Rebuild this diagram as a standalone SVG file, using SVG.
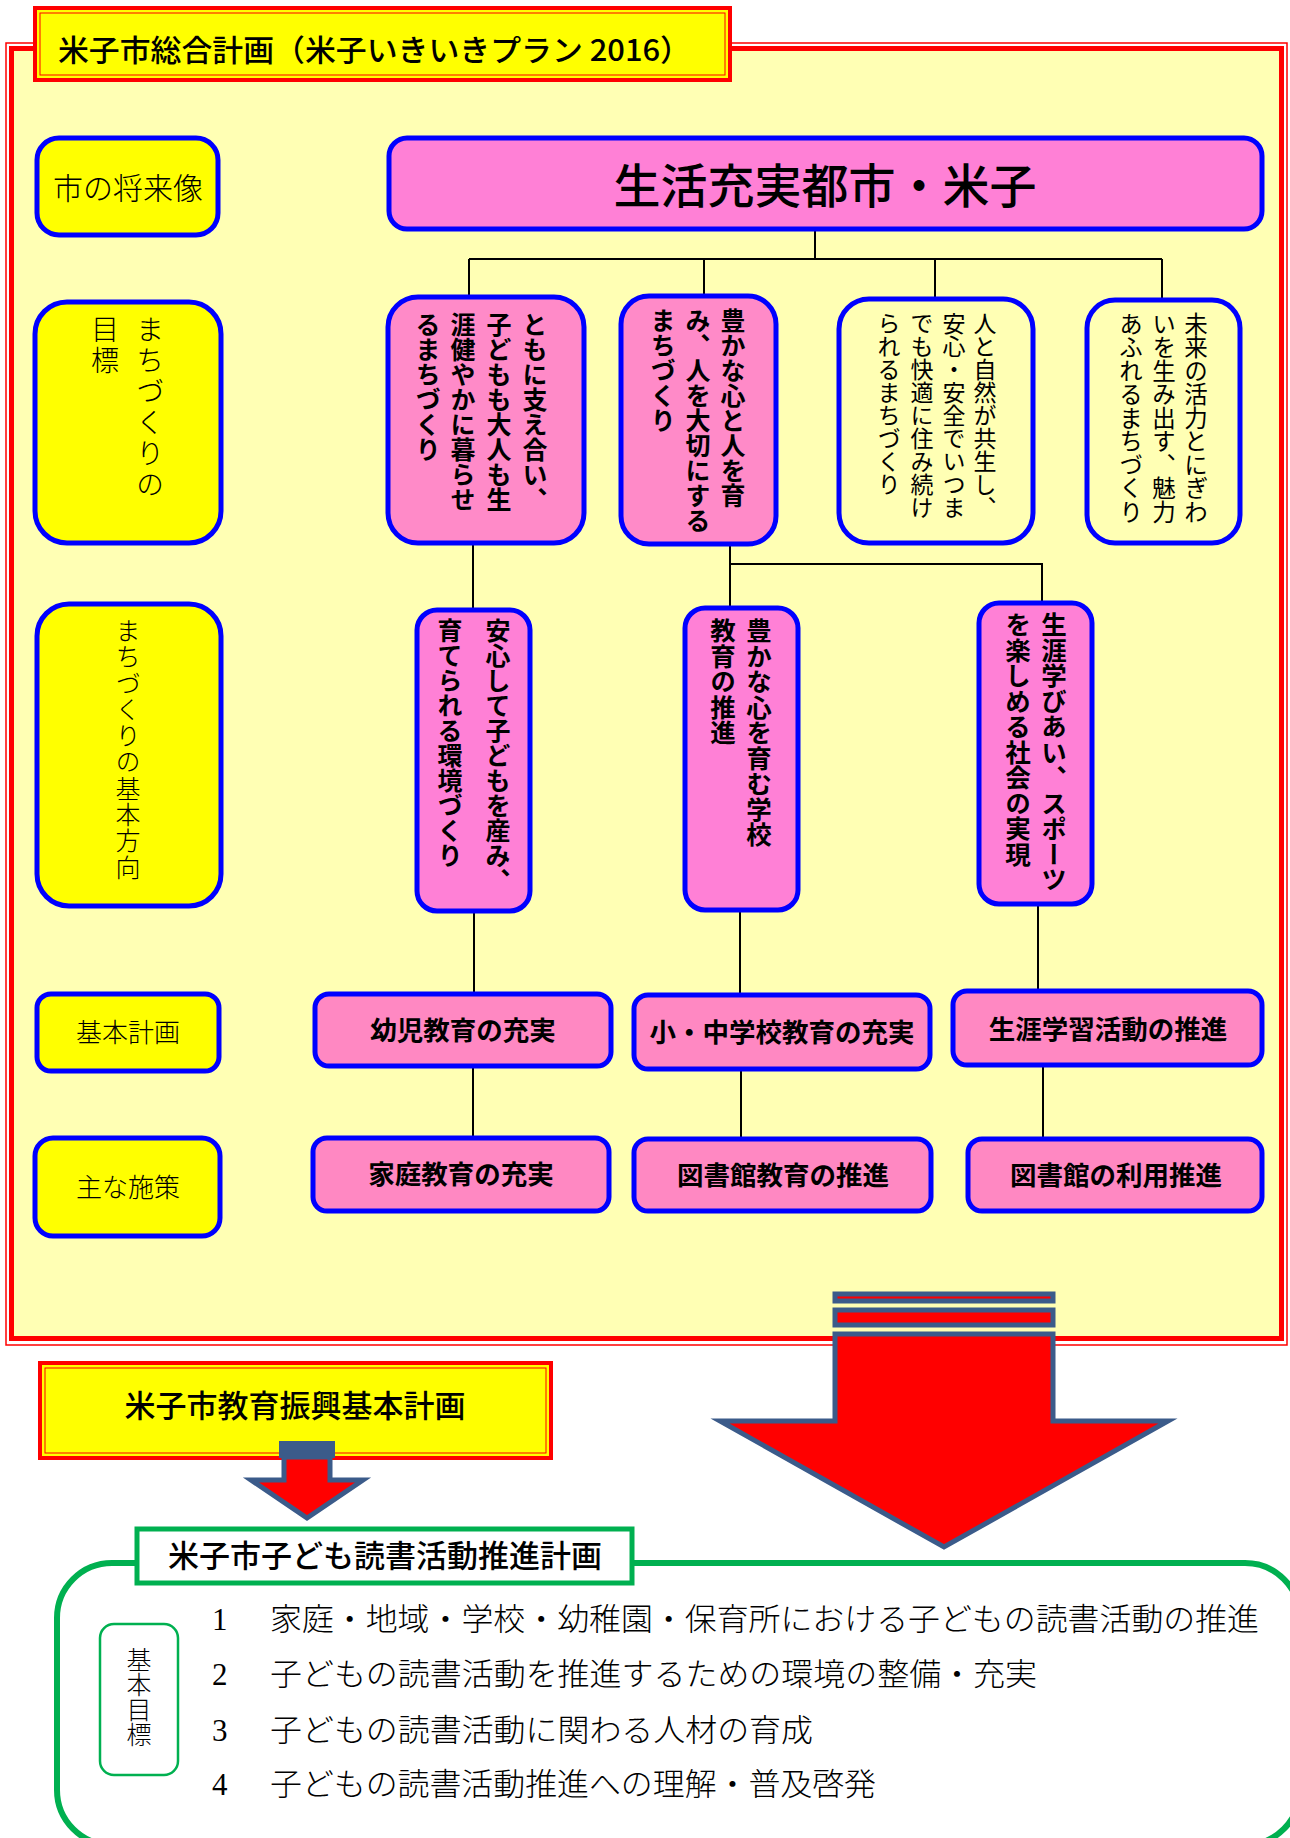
<svg xmlns="http://www.w3.org/2000/svg" width="1290" height="1838" viewBox="0 0 1290 1838">
<style>
text{font-family:"Noto Sans CJK JP","Noto Sans CJK SC",sans-serif;fill:#000}
.v{writing-mode:vertical-rl}
.b{font-weight:700}
.m{font-weight:500}
.l{font-weight:300}
.blue{stroke:#0000FF;stroke-width:5}
.pk{fill:#FF80D6}
.pk2{fill:#FF8AC8}
.pk3{fill:#FF88C2}
.yl{fill:#FFFF00}
.py{fill:#FFFFB4}
.ln{stroke:#000;stroke-width:2;fill:none}
.arr{stroke:#3B5B8A;stroke-width:5;fill:#FF0000;stroke-linejoin:miter}
.c{text-anchor:middle}
</style>
<rect x="0" y="0" width="1290" height="1838" fill="#FFFFFF"/>
<g id="frame">
<rect x="6" y="43" width="1281" height="1302" fill="none" stroke="#FF0000" stroke-width="1.5"/>
<rect x="11.5" y="48.5" width="1270" height="1290" fill="#FFFFB4" stroke="#FF0000" stroke-width="5"/>
</g>
<g id="title">
<rect x="35" y="8" width="695" height="72" fill="#FFFF00" stroke="#FF0000" stroke-width="4"/>
<rect x="40" y="13" width="685" height="62" fill="none" stroke="#FF0000" stroke-width="1"/>
<text x="58" y="61" font-size="30" class="m" textLength="633" lengthAdjust="spacingAndGlyphs">米子市総合計画（米子いきいきプラン 2016）</text>
</g>
<g id="connectors">
<path class="ln" d="M815 231V259"/>
<path class="ln" d="M469 259H1162" stroke-width="3"/>
<path class="ln" d="M469 259V297M704 259V296M935 259V299M1162 259V300"/>
<path class="ln" d="M473 545V610M730 546V608M730 564H1042V603"/>
<path class="ln" d="M474 913V994M740 912V995M1038 906V991"/>
<path class="ln" d="M473 1068V1138M741 1071V1139M1043 1067V1139"/>
</g>
<g id="vision-label">
<rect x="37" y="138" width="181" height="97" rx="22" class="yl blue"/>
<text x="128" y="199" font-size="30" class="l c">市の将来像</text>
</g>
<g id="vision">
<rect x="389" y="138" width="873" height="91" rx="18" class="pk blue"/>
<text x="825" y="203" font-size="47" class="m c">生活充実都市・米子</text>
</g>
<g id="goal-label">
<rect x="35" y="302" width="186" height="241" rx="32" class="yl blue"/>
<text class="v l" x="150" y="315" font-size="28" letter-spacing="3">まちづくりの</text>
<text class="v l" x="105" y="315" font-size="28" letter-spacing="3">目標</text>
</g>
<g id="goal1">
<rect x="388" y="297" width="196" height="246" rx="30" class="pk2 blue"/>
<text class="v b" x="535" y="312" font-size="25">ともに支え合い、</text>
<text class="v b" x="499" y="312" font-size="25">子どもも大人も生</text>
<text class="v b" x="463" y="312" font-size="25">涯健やかに暮らせ</text>
<text class="v b" x="428" y="312" font-size="25">るまちづくり</text>
</g>
<g id="goal2">
<rect x="621" y="296" width="155" height="248" rx="28" class="pk2 blue"/>
<text class="v b" x="733" y="308" font-size="25">豊かな心と人を育</text>
<text class="v b" x="698" y="308" font-size="25">み、人を大切にする</text>
<text class="v b" x="663" y="308" font-size="25">まちづくり</text>
</g>
<g id="goal3">
<rect x="839" y="299" width="194" height="244" rx="30" class="py blue"/>
<text class="v" x="985" y="312" font-size="23">人と自然が共生し、</text>
<text class="v" x="954" y="312" font-size="23">安心・安全でいつま</text>
<text class="v" x="922" y="312" font-size="23">でも快適に住み続け</text>
<text class="v" x="889" y="312" font-size="23">られるまちづくり</text>
</g>
<g id="goal4">
<rect x="1087" y="300" width="153" height="243" rx="28" class="py blue"/>
<text class="v" x="1196" y="312" font-size="23.5">未来の活力とにぎわ</text>
<text class="v" x="1164" y="312" font-size="23.5">いを生み出す、魅力</text>
<text class="v" x="1131" y="312" font-size="23.5">あふれるまちづくり</text>
</g>
<g id="direction-label">
<rect x="37" y="604" width="184" height="302" rx="32" class="yl blue"/>
<text class="v l" x="128" y="618" font-size="25" letter-spacing="1.3">まちづくりの基本方向</text>
</g>
<g id="dirA">
<rect x="417" y="610" width="113" height="301" rx="20" class="pk blue"/>
<text class="v b" x="498" y="618" font-size="25">安心して子どもを産み、</text>
<text class="v b" x="450" y="618" font-size="25">育てられる環境づくり</text>
</g>
<g id="dirB">
<rect x="685" y="608" width="113" height="302" rx="20" class="pk blue"/>
<text class="v b" x="759" y="618" font-size="25.5">豊かな心を育む学校</text>
<text class="v b" x="723" y="618" font-size="25.5">教育の推進</text>
</g>
<g id="dirC">
<rect x="979" y="603" width="113" height="301" rx="20" class="pk blue"/>
<text class="v b" x="1054" y="612" font-size="25.5">生涯学びあい、スポーツ</text>
<text class="v b" x="1018" y="612" font-size="25.5">を楽しめる社会の実現</text>
</g>
<g id="plan-label">
<rect x="37" y="994" width="182" height="77" rx="14" class="yl blue"/>
<text x="128" y="1042" font-size="26" class="l c">基本計画</text>
</g>
<g id="plan1">
<rect x="315" y="994" width="296" height="72" rx="14" class="pk3 blue"/>
<text x="463" y="1040" font-size="26.5" class="b c">幼児教育の充実</text>
</g>
<g id="plan2">
<rect x="634" y="995" width="296" height="74" rx="14" class="pk3 blue"/>
<text x="782" y="1042" font-size="26.5" class="b c">小・中学校教育の充実</text>
</g>
<g id="plan3">
<rect x="953" y="991" width="309" height="74" rx="14" class="pk3 blue"/>
<text x="1108" y="1039" font-size="26.5" class="b c">生涯学習活動の推進</text>
</g>
<g id="measure-label">
<rect x="35" y="1138" width="185" height="98" rx="18" class="yl blue"/>
<text x="128" y="1197" font-size="26" class="l c">主な施策</text>
</g>
<g id="measure1">
<rect x="313" y="1138" width="296" height="73" rx="14" class="pk3 blue"/>
<text x="461" y="1184" font-size="26.5" class="b c">家庭教育の充実</text>
</g>
<g id="measure2">
<rect x="634" y="1139" width="297" height="72" rx="14" class="pk3 blue"/>
<text x="783" y="1185" font-size="26.5" class="b c">図書館教育の推進</text>
</g>
<g id="measure3">
<rect x="968" y="1139" width="294" height="72" rx="14" class="pk3 blue"/>
<text x="1116" y="1185" font-size="26.5" class="b c">図書館の利用推進</text>
</g>
<g id="big-arrow">
<rect x="835" y="1294" width="218" height="7" class="arr"/>
<rect x="835" y="1310" width="218" height="15" class="arr"/>
<polygon points="835,1334 1053,1334 1053,1421 1168,1421 944,1547 720,1421 835,1421" class="arr"/>
</g>
<g id="edu-plan">
<rect x="40" y="1363" width="511" height="95" fill="#FFFF00" stroke="#FF0000" stroke-width="4"/>
<rect x="45" y="1368" width="501" height="85" fill="none" stroke="#FF0000" stroke-width="1"/>
<text x="295" y="1417" font-size="31" class="m c">米子市教育振興基本計画</text>
</g>
<g id="small-arrow">
<polygon points="284,1457 330,1457 330,1480 363,1480 307,1518 251,1480 284,1480" class="arr" stroke-width="4"/>
<rect x="279" y="1441" width="56" height="17" fill="#3B5B8A"/>
</g>
<g id="reading-plan">
<rect x="57" y="1563" width="1243" height="282" rx="55" fill="#FFFFFF" stroke="#00B050" stroke-width="6"/>
<rect x="137" y="1529" width="495" height="54" fill="#FFFFFF" stroke="#00B050" stroke-width="5"/>
<text x="385" y="1567" font-size="31" class="m c">米子市子ども読書活動推進計画</text>
<rect x="100" y="1624" width="78" height="151" rx="14" fill="#FFFFFF" stroke="#00B050" stroke-width="2.5"/>
<text class="v l" x="139" y="1647" font-size="25">基本目標</text>
<g font-size="31" class="l">
<text x="212" y="1630" style="font-family:'Liberation Serif',serif">1</text>
<text x="270" y="1630" textLength="989" lengthAdjust="spacingAndGlyphs">家庭・地域・学校・幼稚園・保育所における子どもの読書活動の推進</text>
<text x="212" y="1685" style="font-family:'Liberation Serif',serif">2</text>
<text x="270" y="1685" textLength="767" lengthAdjust="spacingAndGlyphs">子どもの読書活動を推進するための環境の整備・充実</text>
<text x="212" y="1741" style="font-family:'Liberation Serif',serif">3</text>
<text x="270" y="1741" textLength="543" lengthAdjust="spacingAndGlyphs">子どもの読書活動に関わる人材の育成</text>
<text x="212" y="1795" style="font-family:'Liberation Serif',serif">4</text>
<text x="270" y="1795" textLength="606" lengthAdjust="spacingAndGlyphs">子どもの読書活動推進への理解・普及啓発</text>
</g>
</g>
</svg>
